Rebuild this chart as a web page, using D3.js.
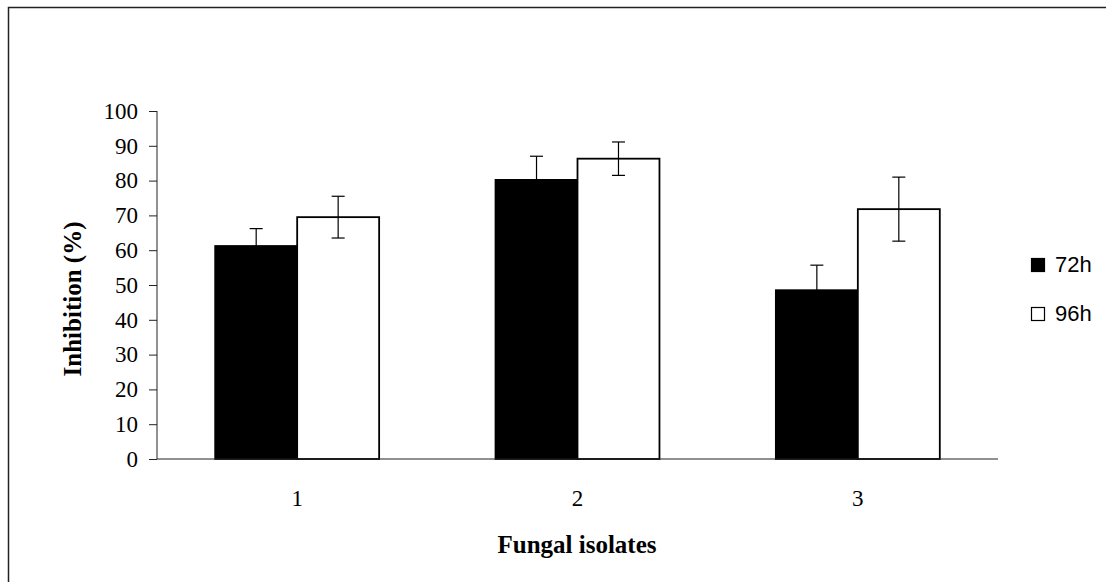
<!DOCTYPE html>
<html>
<head>
<meta charset="utf-8">
<script src="https://cdn.jsdelivr.net/npm/d3@7"></script>
<style>
  body { margin: 0; background: #fff; }
  svg { display: block; }
</style>
</head>
<body>
<div id="chart"></div>
<script>
const isolates = ["1", "2", "3"];
const seriesNames = ["72h", "96h"];
const values72 = [61.2, 80.2, 48.5];
const values96 = [69.5, 86.3, 71.8];
const err72 = [5.0, 6.8, 7.2];
const err96 = [6.0, 4.8, 9.2];
const yTicks = [0, 10, 20, 30, 40, 50, 60, 70, 80, 90, 100];

const width = 1106, height = 582;
const margin = {top: 111, right: 108, bottom: 123, left: 157};
const serif = "Liberation Serif, Times New Roman, serif";

const svg = d3.select("#chart").append("svg").attr("width", width).attr("height", height);

// outer frame (right and bottom edges fall outside the picture)
svg.append("rect").attr("x", 8.5).attr("y", 7.5).attr("width", 1200).attr("height", 700)
  .attr("fill", "none").attr("stroke", "#222").attr("stroke-width", 1.5);

const data = isolates.map((k, i) => ({
  isolate: k,
  bars: [
    {name: seriesNames[0], value: values72[i], err: err72[i]},
    {name: seriesNames[1], value: values96[i], err: err96[i]}
  ]
}));

const x = d3.scaleBand().domain(isolates).range([margin.left, width - margin.right]);
const x1 = d3.scaleBand().domain(seriesNames).range([0, x.bandwidth()]).paddingInner(0).paddingOuter(0.71);
const y = d3.scaleLinear().domain([0, 100]).range([height - margin.bottom, margin.top]);
const fills = {"72h": "#000", "96h": "#fff"};

const groups = svg.selectAll("g.grp").data(data).enter().append("g")
  .attr("class", "grp").attr("transform", d => `translate(${x(d.isolate)},0)`);

groups.selectAll("rect").data(d => d.bars).enter().append("rect")
  .attr("x", d => x1(d.name)).attr("y", d => y(d.value))
  .attr("width", x1.bandwidth()).attr("height", d => y(0) - y(d.value))
  .attr("fill", d => fills[d.name]).attr("stroke", "#000").attr("stroke-width", 1.8);

// error bars
const eb = groups.selectAll("g.err").data(d => d.bars).enter().append("g").attr("class", "err")
  .attr("stroke", "#000").attr("stroke-width", 1.2);
const cx = d => x1(d.name) + x1.bandwidth() / 2;
eb.append("line")
  .attr("x1", cx).attr("x2", cx)
  .attr("y1", d => y(d.value + d.err)).attr("y2", d => y(d.value - d.err));
eb.append("line")
  .attr("x1", d => cx(d) - 6.5).attr("x2", d => cx(d) + 6.5)
  .attr("y1", d => y(d.value + d.err)).attr("y2", d => y(d.value + d.err));
eb.append("line")
  .attr("x1", d => cx(d) - 6.5).attr("x2", d => cx(d) + 6.5)
  .attr("y1", d => y(d.value - d.err)).attr("y2", d => y(d.value - d.err));

// y axis
const yAxis = svg.append("g").attr("transform", `translate(${margin.left},0)`)
  .call(d3.axisLeft(y).tickValues(yTicks).tickSize(8).tickPadding(11));
yAxis.selectAll("text").attr("font-family", serif).attr("font-size", 23).attr("fill", "#000");
yAxis.selectAll("line, path").attr("stroke", "#222");
yAxis.select(".domain").attr("d", `M0,${y(0)}V${y(100)}`);

// x axis
const xAxis = svg.append("g").attr("transform", `translate(0,${y(0)})`)
  .call(d3.axisBottom(x).tickSize(0).tickPadding(31));
xAxis.selectAll("text").attr("font-family", serif).attr("font-size", 23).attr("fill", "#000");
xAxis.select(".domain").attr("stroke", "#222").attr("d", `M${margin.left},0H${width - margin.right}`);

// axis titles
svg.append("text").attr("x", 577).attr("y", 553)
  .attr("text-anchor", "middle").attr("font-family", serif)
  .attr("font-weight", "bold").attr("font-size", 25).text("Fungal isolates");
svg.append("text").attr("transform", "rotate(-90)").attr("x", -299).attr("y", 81)
  .attr("text-anchor", "middle").attr("font-family", serif)
  .attr("font-weight", "bold").attr("font-size", 25).text("Inhibition (%)");

// legend
const legend = svg.append("g").attr("transform", "translate(1031,258)");
seriesNames.forEach((name, i) => {
  legend.append("rect").attr("x", 0.5).attr("y", i * 49 + 0.5).attr("width", 13).attr("height", 13)
    .attr("fill", fills[name]).attr("stroke", "#000").attr("stroke-width", 1.2);
  legend.append("text").attr("x", 24).attr("y", i * 49 + 14)
    .attr("font-family", "Liberation Sans, Arial, sans-serif").attr("font-size", 22)
    .attr("fill", "#000").text(name);
});
</script>
</body>
</html>
